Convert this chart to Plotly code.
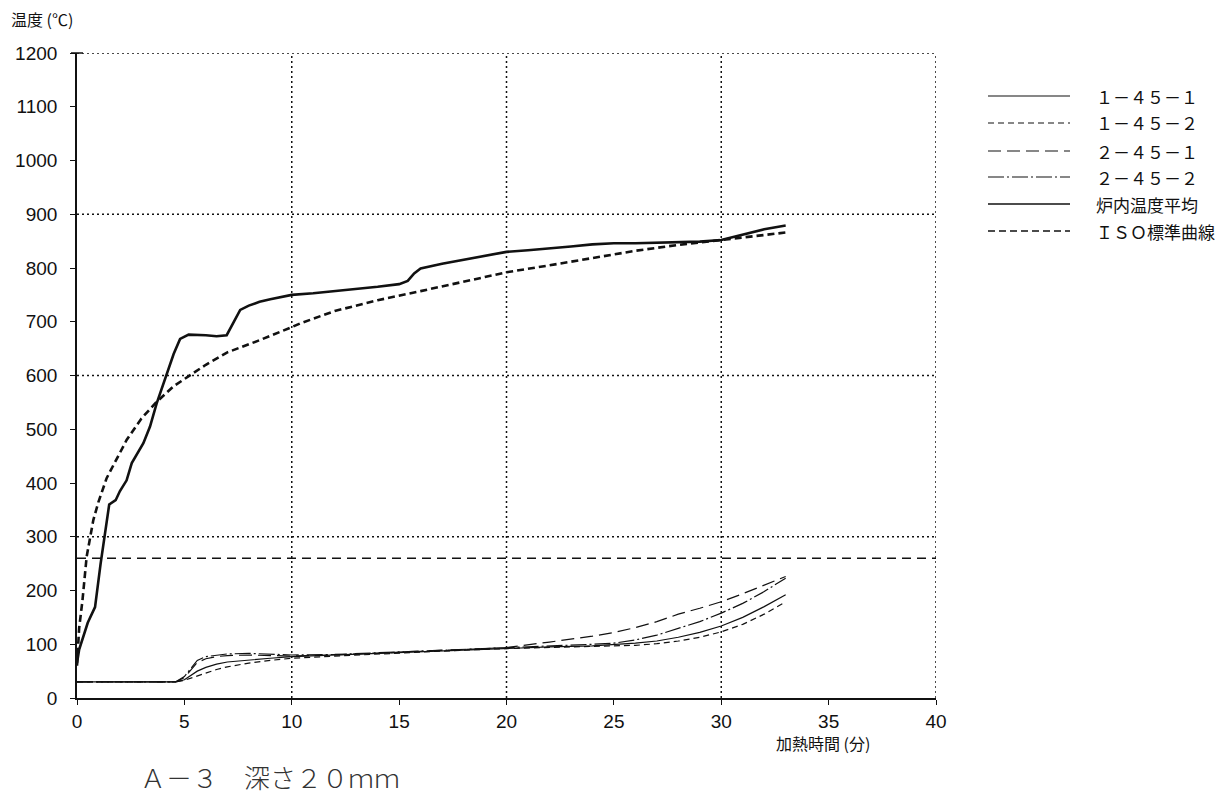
import plotly.graph_objects as go

# ---- data -------------------------------------------------------------
# furnace average temperature (time in minutes, temperature in deg C)
furnace_t = [0, 0.1, 0.5, 0.84, 1.1, 1.4, 1.5, 1.8, 2.0, 2.31, 2.55, 3.09, 3.4,
             3.71, 4.18, 4.5, 4.8, 5.2, 6.0, 6.5, 6.97, 7.3, 7.6, 8.0, 8.5, 9,
             10, 11, 12, 13, 14, 15, 15.4, 15.7, 16, 17, 18, 19, 20, 21, 22, 23,
             24, 25, 26, 27, 28, 29, 30, 31, 32, 33]
furnace_T = [65, 90, 140, 169, 250, 340, 360, 368, 385, 405, 437, 474, 505,
             548, 604, 640, 668, 676, 675, 673, 675, 700, 722, 730, 737, 742,
             750, 753, 757, 760, 765, 770, 776, 790, 799, 808, 815, 822, 830, 833, 836, 840,
             844, 846, 846, 847, 848, 849, 852, 862, 872, 879]

# ISO standard curve
iso_t = [0, 0.1, 0.25, 0.45, 0.76, 1, 1.38, 2, 2.31, 3, 3.71, 4.5, 5.42, 6, 7,
         8.52, 10, 10.4, 12, 14, 16, 18, 20, 22, 24, 25, 26, 28, 30, 32, 33]
iso_T = [60, 130, 180, 263, 331, 365, 409, 458, 480, 520, 551, 580, 604, 620, 643,
         666, 690, 697, 720, 740, 757, 775, 792, 805, 819, 826, 832, 843, 852, 861, 866]

# specimen thermocouples at 20 mm depth
spec_t = [0, 1, 2, 3, 4, 4.6, 5, 5.3, 5.6, 6, 6.5, 7, 8, 9, 10, 12, 14, 16, 18,
          20, 22, 24, 25, 26, 27, 28, 29, 30, 31, 32, 33]
s_1_45_1 = [30, 30, 30, 30, 30, 30, 34, 42, 50, 57, 63, 67, 71, 74, 77, 80, 83, 86, 89,
            93, 95, 97, 99, 102, 106, 113, 122, 134, 150, 170, 192]
s_1_45_2 = [30, 30, 30, 30, 30, 30, 33, 37, 42, 47, 53, 58, 65, 70, 74, 78, 82, 86, 89,
            92, 94, 95, 96, 98, 101, 106, 113, 123, 137, 156, 179]
s_2_45_1 = [30, 30, 30, 30, 30, 30, 38, 52, 66, 73, 77, 79, 80, 79, 78, 80, 84, 87, 90,
            94, 104, 115, 122, 131, 142, 156, 167, 179, 194, 210, 226]
s_2_45_2 = [30, 30, 30, 30, 30, 30, 40, 56, 70, 77, 80, 82, 83, 82, 80, 81, 84, 87, 90,
            93, 96, 100, 102, 108, 117, 129, 142, 158, 176, 198, 223]

# reference level
ref_t = [0, 40]
ref_T = [260, 260]

x_ticks = [0, 5, 10, 15, 20, 25, 30, 35, 40]
y_ticks = [0, 100, 200, 300, 400, 500, 600, 700, 800, 900, 1000, 1100, 1200]
x_grid = [10, 20, 30, 40]
y_grid = [300, 600, 900, 1200]

legend_labels = ["１－４５－１", "１－４５－２", "２－４５－１", "２－４５－２",
                 "炉内温度平均", "ＩＳＯ標準曲線"]

# ---- styling ----------------------------------------------------------
INK = "#111111"
W, H = 1223, 809
L, R, T, B = 77, 936, 53, 698          # plot area edges in pixels
CJK = "Noto Sans CJK JP"
NUM = "Liberation Sans"


def px_x(p):
    return (p - L) / (R - L)


def px_y(p):
    return (B - p) / (B - T)


styles = [
    dict(width=1.2, dash="solid"),
    dict(width=1.2, dash="6px,4px"),
    dict(width=1.2, dash="13px,6px"),
    dict(width=1.2, dash="16px,3px,2px,3px"),
    dict(width=2.6, dash="solid"),
    dict(width=2.6, dash="7px,4px"),
]

series = [
    (spec_t, s_1_45_1),
    (spec_t, s_1_45_2),
    (spec_t, s_2_45_1),
    (spec_t, s_2_45_2),
    (furnace_t, furnace_T),
    (iso_t, iso_T),
]

fig = go.Figure()

fig.add_trace(go.Scatter(x=ref_t, y=ref_T, mode="lines", showlegend=False,
                         line=dict(color=INK, width=1.3, dash="9px,6px"),
                         hoverinfo="skip"))

for (tx, ty), st, name in zip(series, styles, legend_labels):
    fig.add_trace(go.Scatter(x=tx, y=ty, mode="lines", name=name, showlegend=False,
                             line=dict(color=INK, width=st["width"], dash=st["dash"])))

shapes = []
# dotted grid
for gx in x_grid:
    shapes.append(dict(type="line", xref="x", yref="y", x0=gx, x1=gx, y0=0, y1=1200,
                       line=dict(color=INK, width=1.5, dash="2px,3px"), layer="below"))
for gy in y_grid:
    shapes.append(dict(type="line", xref="x", yref="y", x0=0, x1=40, y0=gy, y1=gy,
                       line=dict(color=INK, width=1.5, dash="2px,3px"), layer="below"))
# T-cap at top of the temperature axis
shapes.append(dict(type="line", xref="paper", yref="paper", x0=px_x(L - 6), x1=px_x(L + 6),
                   y0=1, y1=1, line=dict(color=INK, width=1.5)))

annotations = []
# hand-drawn legend
rows = [96, 123, 151, 177, 204, 231]
for row, st, name in zip(rows, styles, legend_labels):
    shapes.append(dict(type="line", xref="paper", yref="paper",
                       x0=px_x(988), x1=px_x(1070), y0=px_y(row), y1=px_y(row),
                       line=dict(color=INK, width=min(st["width"], 1.6), dash=st["dash"])))
    annotations.append(dict(xref="paper", yref="paper", x=px_x(1094), y=px_y(row),
                            xanchor="left", yanchor="middle", showarrow=False, text=name,
                            font=dict(family=CJK, size=17, color=INK)))

annotations += [
    dict(xref="paper", yref="paper", x=px_x(9), y=px_y(19), xanchor="left",
         yanchor="middle", showarrow=False, text="温度 (℃)",
         font=dict(family=CJK, size=16, color=INK)),
    dict(xref="paper", yref="paper", x=px_x(774), y=px_y(743), xanchor="left",
         yanchor="middle", showarrow=False, text="加熱時間 (分)",
         font=dict(family=CJK, size=16, color=INK)),
    dict(xref="paper", yref="paper", x=px_x(138), y=px_y(776), xanchor="left",
         yanchor="middle", showarrow=False, text="Ａ－３　深さ２０ｍｍ",
         font=dict(family=CJK, size=26, color="#333333", weight=300)),
]

axis_common = dict(showgrid=False, zeroline=False, showline=True, linecolor=INK,
                   linewidth=1.6, ticks="outside", ticklen=5, tickwidth=1.4,
                   tickcolor=INK, tickfont=dict(family=NUM, size=19, color=INK))

fig.update_layout(
    width=W, height=H,
    margin=dict(l=L, r=W - R, t=T, b=H - B),
    paper_bgcolor="white", plot_bgcolor="white",
    showlegend=False,
    xaxis=dict(range=[0, 40], tickvals=x_ticks, **axis_common),
    yaxis=dict(range=[0, 1200], tickvals=y_ticks, ticklabelstandoff=9, **axis_common),
    # inner half of the cross-shaped ticks
    xaxis2=dict(range=[0, 40], tickvals=x_ticks, overlaying="x", ticks="inside",
                ticklen=4, tickwidth=1.4, tickcolor=INK, showticklabels=False,
                showgrid=False, zeroline=False, showline=False),
    yaxis2=dict(range=[0, 1200], tickvals=y_ticks, overlaying="y", ticks="inside",
                ticklen=4, tickwidth=1.4, tickcolor=INK, showticklabels=False,
                showgrid=False, zeroline=False, showline=False),
    shapes=shapes,
    annotations=annotations,
)

fig.write_html("out.html")
